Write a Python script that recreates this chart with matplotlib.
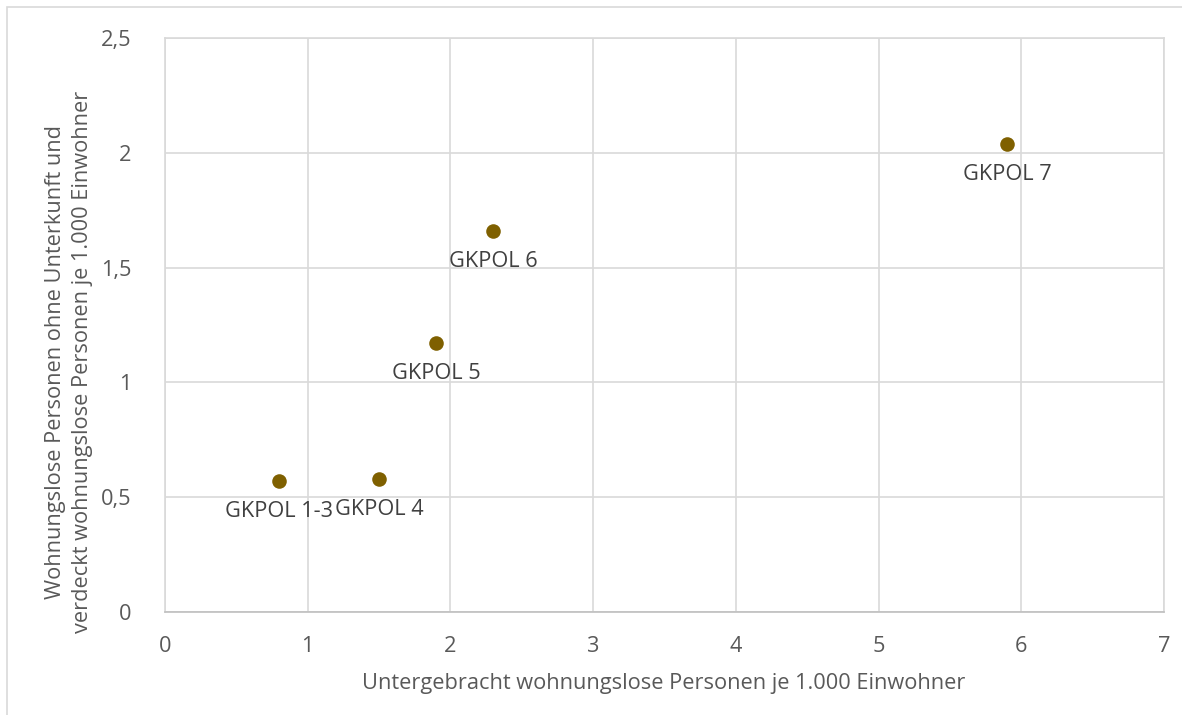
import matplotlib
matplotlib.use("Agg")
import matplotlib.pyplot as plt
from matplotlib.patches import Rectangle

plt.rcParams['font.family'] = ['Open Sans', 'DejaVu Sans']

# data
labels = ["GKPOL 1-3", "GKPOL 4", "GKPOL 5", "GKPOL 6", "GKPOL 7"]
x_vals = [0.8, 1.5, 1.9, 2.3, 5.9]
y_vals = [0.57, 0.58, 1.17, 1.66, 2.04]

x_ticks = [0, 1, 2, 3, 4, 5, 6, 7]
y_ticks = [0, 0.5, 1, 1.5, 2, 2.5]
y_ticklabels = ["0", "0,5", "1", "1,5", "2", "2,5"]

text_col = "#595959"
grid_col = "#D9D9D9"
fs = 15.7

W, H = 1182, 715
fig = plt.figure(figsize=(W / 100, H / 100), dpi=100)
# outer chart frame
fig.patches.append(Rectangle((7 / W, -0.05), 1.2, (H - 7) / H + 0.05,
                             transform=fig.transFigure, fill=False,
                             edgecolor=grid_col, linewidth=1.2))

ax = fig.add_axes([165 / W, 1 - 612 / H, (1164 - 165) / W, (612 - 38) / H])
ax.scatter(x_vals, y_vals, s=110, color="#7F6000", zorder=3, linewidths=0)
for lab, xv, yv in zip(labels, x_vals, y_vals):
    ax.annotate(lab, (xv, yv), xytext=(0, -22), textcoords="offset points",
                ha="center", va="center", fontsize=fs, color="#404040")

ax.set_xlim(0, 7)
ax.set_ylim(0, 2.5)
ax.set_xticks(x_ticks)
ax.set_xticklabels([str(v) for v in x_ticks])
ax.set_yticks(y_ticks)
ax.set_yticklabels(y_ticklabels)
ax.tick_params(length=0, labelsize=fs, labelcolor=text_col)
ax.tick_params(axis="x", pad=17)
ax.tick_params(axis="y", pad=24)
ax.grid(True, color=grid_col, linewidth=1.2)
ax.set_axisbelow(True)
for s in ax.spines.values():
    s.set_color(grid_col)
    s.set_linewidth(1.2)
ax.spines["bottom"].set_color("#BFBFBF")

fig.text(664 / W, 1 - 683 / H, "Untergebracht wohnungslose Personen je 1.000 Einwohner",
         ha="center", va="center", fontsize=fs, color=text_col)
fig.text(69 / W, 1 - 362 / H,
         "Wohnungslose Personen ohne Unterkunft und\nverdeckt wohnungslose Personen je 1.000 Einwohner",
         ha="center", va="center", rotation=90, fontsize=fs, color=text_col,
         linespacing=1.35)

fig.savefig("out.png", dpi=100)
